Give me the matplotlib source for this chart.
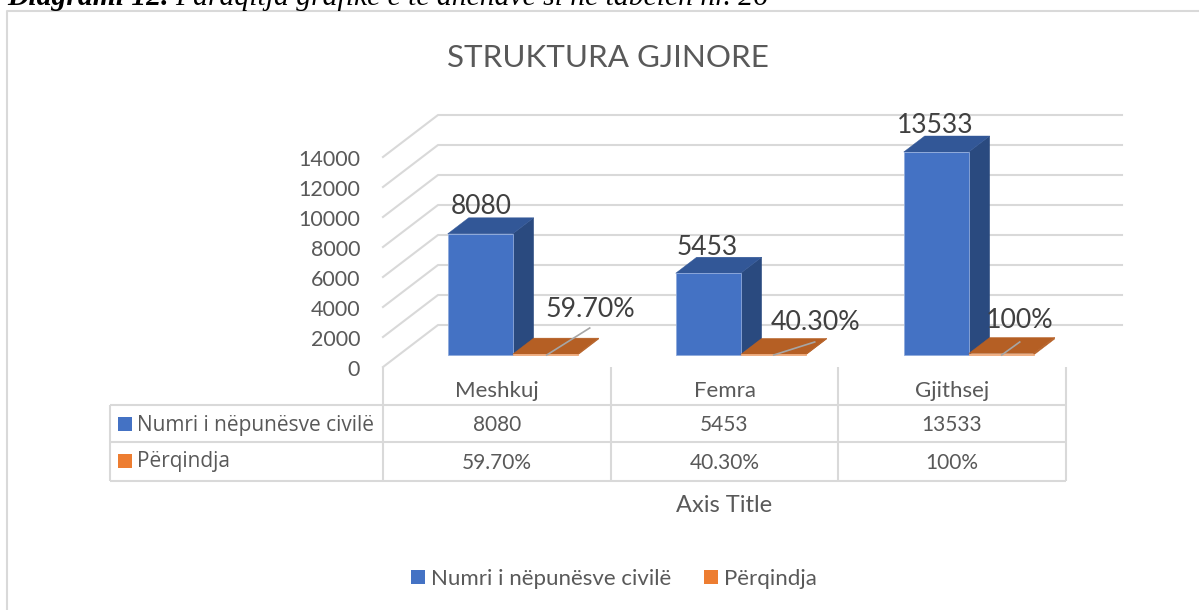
import matplotlib
matplotlib.use("Agg")
import matplotlib.pyplot as plt
from matplotlib.lines import Line2D
from matplotlib.patches import Polygon, Rectangle

plt.rcParams['font.family'] = ['Lato', 'DejaVu Sans']

#--------------
#Data
#--------------
categories = ["Meshkuj", "Femra", "Gjithsej"]
series_names = ["Numri i nëpunësve civilë", "Përqindja"]
civil_servants = [8080, 5453, 13533]
share_values = [59.70, 40.30, 100]
share_labels = ["59.70%", "40.30%", "100%"]
y_ticks = [0, 2000, 4000, 6000, 8000, 10000, 12000, 14000]

#--------------
#Layout
#--------------
W, H = 1199, 610
blue, blue_side, blue_top = "#4472C4", "#2A4A7F", "#325797"
orange, orange_floor = "#ED7D31", "#B55F24"
grid = "#D9D9D9"
grey_text = "#595959"
dark_text = "#404040"

fig = plt.figure(figsize=(W / 100, H / 100), dpi=100)
# plot box: 383..1067 px across, 367..157 px down
ax = fig.add_axes([383 / W, 1 - 367 / H, 684 / W, 210 / H])
ax.set_xlim(0, 3)
ax.set_ylim(0, 14000)
ax.axis("off")

# one depth unit moves the point back to the rear wall
depth_x = 55 / 228
depth_y = 42 / 210 * 14000


def project(x, v, d):
    return x + d * depth_x, v + d * depth_y


def px(x, y):
    return x / W, 1 - y / H


def fig_line(xs, ys, color=grid, lw=1.5):
    pts = [px(a, b) for a, b in zip(xs, ys)]
    fig.add_artist(Line2D([p[0] for p in pts], [p[1] for p in pts], color=color, lw=lw,
                          transform=fig.transFigure, solid_capstyle="butt"))


def fig_text(x, y, s, **kw):
    a, b = px(x, y)
    kw.setdefault("color", grey_text)
    kw.setdefault("va", "center")
    kw.setdefault("ha", "center")
    fig.text(a, b, s, **kw)


def bar3d(x, width, v, front, back, face, side, top, edge):
    fl, bl = project(x, 0, front), project(x, v, front)
    fr, br = project(x + width, 0, front), project(x + width, v, front)
    bbr, tbr = project(x + width, 0, back), project(x + width, v, back)
    tbl = project(x, v, back)
    ax.add_patch(Polygon([fr, bbr, tbr, br], fc=side, ec=side, lw=0.3, clip_on=False, zorder=3))
    ax.add_patch(Polygon([bl, br, tbr, tbl], fc=top, ec=top, lw=0.3, clip_on=False, zorder=3))
    ax.add_patch(Polygon([fl, fr, br, bl], fc=face, ec=edge, lw=0.6, clip_on=False, zorder=3))


#-------------
#Gridlines
#-------------
for t in y_ticks:
    a = project(0, t, 0)
    b = project(0, t, 1)
    c = project(3, t, 1)
    ax.plot([a[0], b[0], c[0]], [a[1], b[1], c[1]], color=grid, lw=1.5, clip_on=False, zorder=1)
    ax.annotate(f"{t}", (0, t), xytext=(-23, -3), textcoords="offset pixels", ha="right", va="center",
                fontsize=15.5, color=grey_text, annotation_clip=False)

#-------------
#Bars and labels
#-------------
bar_w = 65 / 228
bar_off = 49 / 228
front_d, back_d = 12 / 42, 28 / 42
count_offsets = [(-20, -1), (-22, -3), (-22, -2)]
share_offsets = [(24, 16), (21, 3), (-3, 4)]
leaders = [((34, 0), (77, 27)), ((33, 0), (74, 13)), ((33, 0), (51, 13))]
for i, cat in enumerate(categories):
    x0 = i + bar_off
    x1 = x0 + bar_w
    v1 = civil_servants[i]
    v2 = share_values[i]
    bar3d(x0, bar_w, v1, front_d, back_d, blue, blue_side, blue_top, "#8FAADC")
    bar3d(x1, bar_w, v2, front_d, back_d, orange_floor, orange_floor, orange_floor, "#F4B183")

    top_back = project(x0 + bar_w / 2, v1, back_d)
    dx, dy = count_offsets[i]
    ax.annotate(f"{v1}", top_back, xytext=(dx, dy), textcoords="offset pixels", ha="center", va="bottom",
                fontsize=19, color=dark_text, zorder=5, annotation_clip=False)

    base = project(x1, 0, front_d)
    (ax_, ay_), (bx_, by_) = leaders[i]
    p0 = ax.transData.transform(base)
    la = ax.transData.inverted().transform((p0[0] + ax_, p0[1] + ay_))
    lb = ax.transData.inverted().transform((p0[0] + bx_, p0[1] + by_))
    ax.plot([la[0], lb[0]], [la[1], lb[1]], color="#A6A6A6", lw=1.2, clip_on=False, zorder=4)
    floor_mid = project(x1 + bar_w / 2, v2, back_d)
    dx, dy = share_offsets[i]
    ax.annotate(share_labels[i], floor_mid, xytext=(dx, dy), textcoords="offset pixels", ha="center",
                va="bottom", fontsize=19.3, color=dark_text, zorder=5, annotation_clip=False)

#-------------
#Data table
#-------------
col_x = [383, 611, 838, 1066]
for y in [405, 442, 481]:
    fig_line([110, 1066], [y, y])
fig_line([110, 110], [405, 481])
for x in col_x:
    fig_line([x, x], [367, 481])

for i, cat in enumerate(categories):
    cx = (col_x[i] + col_x[i + 1]) / 2
    fig_text(cx, 391, cat, fontsize=16)
    fig_text(cx, 425, f"{civil_servants[i]}", fontsize=15)
    fig_text(cx, 463, share_labels[i], fontsize=15)

for y, name, col in zip([424, 461], series_names, [blue, orange]):
    a, b = px(118, y + 7)
    fig.add_artist(Rectangle((a, b), 14 / W, 14 / H, fc=col, ec="none", transform=fig.transFigure))
    fig_text(137, y + 1, name, ha="left", fontsize=15, family=["Open Sans", "DejaVu Sans"])

#-------------
#Titles and legend
#-------------
fig_text(608, 58, "STRUKTURA GJINORE", fontsize=22.6)
fig_text(724, 506, "Axis Title", fontsize=17)

for x, name, col in zip([411, 704], series_names, [blue, orange]):
    a, b = px(x, 584)
    fig.add_artist(Rectangle((a, b), 14 / W, 14 / H, fc=col, ec="none", transform=fig.transFigure))
    fig_text(x + 20, 579, name, ha="left", fontsize=16)

# outer chart frame and the caption cut off above it
fig_line([7, 7, 1199], [610, 11, 11], lw=1.5)
fig_text(7, 5, "Diagrami 12.", ha="left", va="baseline", color="black", fontsize=21.3,
         family=["Liberation Serif"], style="italic", weight="bold")
fig_text(175, 5, "Paraqitja grafike e të dhënave si në tabelën nr. 26", ha="left", va="baseline",
         color="black", fontsize=21.3, family=["Liberation Serif"], style="italic")

fig.savefig("out.png", dpi=100)
